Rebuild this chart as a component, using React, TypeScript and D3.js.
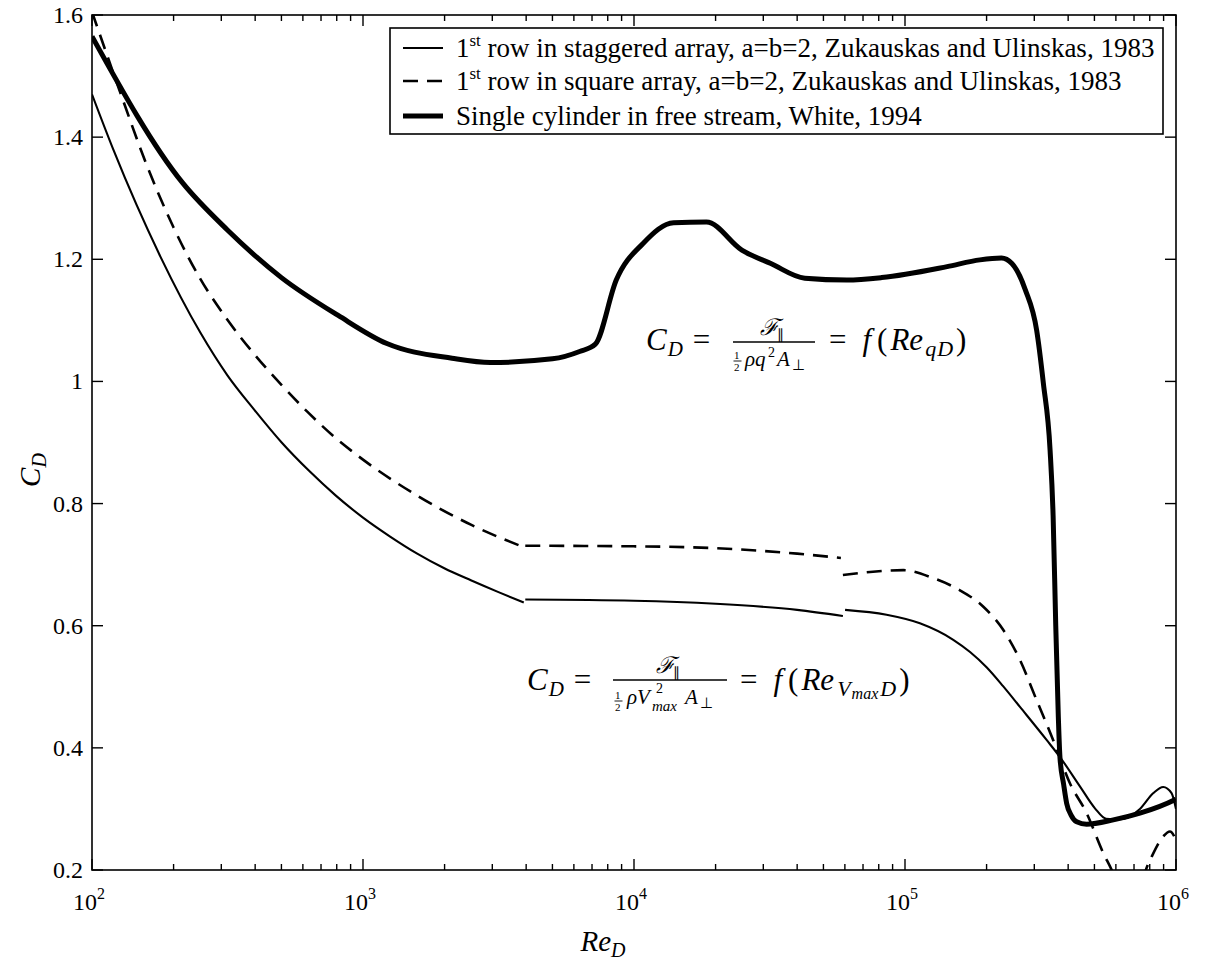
import React, { useEffect, useRef } from "react";
import * as d3 from "d3";

// 1st row in staggered array (thin solid), three pieces
const stagRe1 = [100, 120, 179, 251, 316, 398, 501, 631, 794, 1000, 1259, 1585, 1995, 2512, 3162, 3920];
const stagCd1 = [1.47, 1.379, 1.204, 1.08, 1.01, 0.953, 0.9, 0.854, 0.813, 0.777, 0.746, 0.718, 0.694, 0.674, 0.655, 0.638];
const stagRe2 = [3970, 10000, 20000, 40000, 59000];
const stagCd2 = [0.643, 0.641, 0.636, 0.626, 0.616];
const stagRe3 = [60100, 85500, 113500, 150700, 173800, 200000, 230100, 265600, 333000, 373000, 442000, 502300, 552000, 621000, 736000, 825000, 897000, 963000, 1000000];
const stagCd3 = [0.626, 0.618, 0.604, 0.577, 0.557, 0.532, 0.501, 0.467, 0.413, 0.385, 0.337, 0.301, 0.284, 0.283, 0.3, 0.326, 0.336, 0.326, 0.3];

// 1st row in square array (dashed), three pieces
const sqRe1 = [100, 126, 158, 200, 251, 316, 398, 501, 631, 794, 1000, 1585, 2512, 3950];
const sqCd1 = [1.605, 1.478, 1.358, 1.252, 1.168, 1.101, 1.044, 0.994, 0.948, 0.907, 0.872, 0.813, 0.765, 0.728];
const sqRe2 = [3970, 10000, 20000, 40000, 58000];
const sqCd2 = [0.731, 0.73, 0.727, 0.718, 0.711];
const sqRe3 = [59000, 74300, 98600, 127000, 159500, 194600, 230600, 265600, 306000, 352000, 406000, 468000, 540000, 579000, 660000, 801000, 897000, 950000, 1000000];
const sqCd3 = [0.683, 0.688, 0.691, 0.678, 0.658, 0.631, 0.593, 0.544, 0.478, 0.413, 0.342, 0.293, 0.227, 0.2, 0.13, 0.216, 0.255, 0.263, 0.249];

// single cylinder in free stream, White 1994 (thick)
const cylRe = [100, 216, 316, 500, 810, 1225, 2130, 2950, 5000, 6300, 7200, 8600, 10800, 14000, 18500, 25000, 32000, 42700, 61000, 82000, 143000, 189000, 227000, 248000, 278000, 306000, 324000, 343000, 352000, 360000, 368000, 373000, 385000, 395000, 410000, 430000, 468000, 587000, 736000, 990000, 1000000];
const cylCd = [1.565, 1.325, 1.248, 1.17, 1.108, 1.062, 1.038, 1.031, 1.037, 1.049, 1.061, 1.166, 1.226, 1.26, 1.261, 1.215, 1.193, 1.169, 1.166, 1.17, 1.188, 1.199, 1.202, 1.193, 1.15, 1.084, 0.997, 0.888, 0.78, 0.6, 0.45, 0.385, 0.34, 0.309, 0.29, 0.279, 0.275, 0.282, 0.293, 0.315, 0.316];

const yTicks = [0.2, 0.4, 0.6, 0.8, 1.0, 1.2, 1.4, 1.6];
const yTickLabels = ["0.2", "0.4", "0.6", "0.8", "1", "1.2", "1.4", "1.6"];
const xDecades = [2, 3, 4, 5, 6];

const legendRest = [
  " row in staggered array, a=b=2, Zukauskas and Ulinskas, 1983",
  " row in square array, a=b=2, Zukauskas and Ulinskas, 1983",
  "Single cylinder in free stream, White, 1994",
];

const serif = "Liberation Serif, Times New Roman, serif";

export default function App() {
  const svgRef = useRef<SVGSVGElement>(null);

  useEffect(() => {
    const svg = d3.select(svgRef.current);
    svg.selectAll("*").remove();

    const left = 92, right = 1176, top = 15, bottom = 870;
    const x = d3.scaleLog().domain([1e2, 1e6]).range([left, right]);
    const y = d3.scaleLinear().domain([0.2, 1.6]).range([bottom, top]);

    svg.append("rect").attr("width", 1207).attr("height", 961).attr("fill", "#fff");

    svg.append("defs").append("clipPath").attr("id", "plotclip")
      .append("rect").attr("x", left).attr("y", top).attr("width", right - left).attr("height", bottom - top);

    const zip = (a: number[], b: number[]) => a.map((v, i) => [v, b[i]] as [number, number]);
    const line = d3.line<[number, number]>()
      .x(d => x(d[0]))
      .y(d => y(d[1]))
      .curve(d3.curveMonotoneX);

    const g = svg.append("g").attr("clip-path", "url(#plotclip)");

    // thick
    g.append("path").attr("d", line(zip(cylRe, cylCd)))
      .attr("fill", "none").attr("stroke", "#000").attr("stroke-width", 5).attr("stroke-linejoin", "round");

    // dashed
    [[sqRe1, sqCd1], [sqRe2, sqCd2], [sqRe3, sqCd3]].forEach(([r, c]) => {
      g.append("path").attr("d", line(zip(r, c)))
        .attr("fill", "none").attr("stroke", "#000").attr("stroke-width", 2.6)
        .attr("stroke-dasharray", "15,9");
    });

    // thin
    [[stagRe1, stagCd1], [stagRe2, stagCd2], [stagRe3, stagCd3]].forEach(([r, c]) => {
      g.append("path").attr("d", line(zip(r, c)))
        .attr("fill", "none").attr("stroke", "#000").attr("stroke-width", 2.1);
    });

    // frame
    svg.append("rect").attr("x", left).attr("y", top).attr("width", right - left).attr("height", bottom - top)
      .attr("fill", "none").attr("stroke", "#000").attr("stroke-width", 1.6);

    // x ticks (bottom and top, inward)
    x.ticks().forEach(v => {
      const major = Math.abs(Math.log10(v) - Math.round(Math.log10(v))) < 1e-9;
      const len = major ? 11 : 6;
      svg.append("line").attr("x1", x(v)).attr("x2", x(v)).attr("y1", bottom).attr("y2", bottom - len)
        .attr("stroke", "#000").attr("stroke-width", 1.4);
      svg.append("line").attr("x1", x(v)).attr("x2", x(v)).attr("y1", top).attr("y2", top + len)
        .attr("stroke", "#000").attr("stroke-width", 1.4);
    });

    xDecades.forEach(d => {
      const t = svg.append("text").attr("x", x(Math.pow(10, d)) - 3).attr("y", 910)
        .attr("text-anchor", "middle").attr("font-family", serif).attr("font-size", 24);
      t.append("tspan").text("10");
      t.append("tspan").attr("font-size", 16).attr("dy", -11).text(String(d));
    });

    // y ticks (left and right, inward)
    yTicks.forEach((v, i) => {
      svg.append("line").attr("x1", left).attr("x2", left + 11).attr("y1", y(v)).attr("y2", y(v))
        .attr("stroke", "#000").attr("stroke-width", 1.4);
      svg.append("line").attr("x1", right).attr("x2", right - 11).attr("y1", y(v)).attr("y2", y(v))
        .attr("stroke", "#000").attr("stroke-width", 1.4);
      svg.append("text").attr("x", 83).attr("y", y(v) + 8).attr("text-anchor", "end")
        .attr("font-family", serif).attr("font-size", 24).text(yTickLabels[i]);
    });

    // axis titles
    const xl = svg.append("text").attr("x", 603).attr("y", 951).attr("text-anchor", "middle")
      .attr("font-family", serif).attr("font-size", 29).attr("font-style", "italic");
    xl.append("tspan").text("Re");
    xl.append("tspan").attr("font-size", 20).attr("dy", 6).text("D");

    const yl = svg.append("text").attr("transform", "translate(40,470) rotate(-90)").attr("text-anchor", "middle")
      .attr("font-family", serif).attr("font-size", 29).attr("font-style", "italic");
    yl.append("tspan").text("C");
    yl.append("tspan").attr("font-size", 20).attr("dy", 6).text("D");

    // legend
    const lg = svg.append("g");
    lg.append("rect").attr("x", 390).attr("y", 28).attr("width", 773).attr("height", 106)
      .attr("fill", "#fff").attr("stroke", "#000").attr("stroke-width", 1.6);
    const rowsY = [48, 81, 116];
    const sw = [2.1, 2.6, 5];
    rowsY.forEach((ry, i) => {
      const l = lg.append("line").attr("x1", 403).attr("x2", 443).attr("y1", ry).attr("y2", ry)
        .attr("stroke", "#000").attr("stroke-width", sw[i]);
      if (i === 1) l.attr("stroke-dasharray", "15,9");
      const t = lg.append("text").attr("x", 456).attr("y", ry + 9)
        .attr("font-family", serif).attr("font-size", 27);
      if (i < 2) {
        t.append("tspan").text("1");
        t.append("tspan").attr("font-size", 17).attr("dy", -11).text("st");
        t.append("tspan").attr("dy", 11).text(legendRest[i]);
      } else {
        t.text(legendRest[i]);
      }
    });

    // formula helpers
    const run = (tx: number, ty: number) =>
      svg.append("text").attr("x", tx).attr("y", ty).attr("font-family", serif).attr("font-size", 31);
    const span = (t: any, s: string, o: { it?: boolean; size?: number; dx?: number; dy?: number } = {}) => {
      const sp = t.append("tspan").text(s);
      if (o.it) sp.attr("font-style", "italic");
      if (o.size) sp.attr("font-size", o.size);
      if (o.dx) sp.attr("dx", o.dx);
      if (o.dy) sp.attr("dy", o.dy);
      return sp;
    };
    const txt = (s: string, tx: number, ty: number, size: number, italic = false) =>
      svg.append("text").attr("x", tx).attr("y", ty).attr("font-family", serif)
        .attr("font-size", size).attr("font-style", italic ? "italic" : "normal").text(s);
    const bar = (x1: number, x2: number, by: number, w = 1.3) =>
      svg.append("line").attr("x1", x1).attr("x2", x2).attr("y1", by).attr("y2", by)
        .attr("stroke", "#000").attr("stroke-width", w);
    const half = (hx: number, hy: number) => {
      txt("1", hx, hy - 3, 11);
      bar(hx - 0.5, hx + 7.5, hy - 1, 0.9);
      txt("2", hx, hy + 9, 11);
    };

    // formula 1: C_D = F|| / (1/2 rho q^2 A_perp) = f(Re_qD)
    const a1 = run(646, 350);
    span(a1, "C", { it: true });
    span(a1, "D", { it: true, size: 21, dy: 6, dx: 1 });
    span(a1, "=", { dy: -6, dx: 10 });
    bar(733, 815, 342);
    txt("\u2131", 760, 335, 23, true);
    txt("\u2225", 777, 339, 14);
    half(734, 362);
    txt("\u03C1q", 745, 366, 21, true);
    txt("2", 768, 357, 14);
    txt("A", 777, 366, 21, true);
    txt("\u22A5", 792, 370, 15);
    const b1 = run(829, 350);
    span(b1, "=");
    span(b1, "f", { it: true, dx: 16 });
    span(b1, "(", { dx: 6 });
    span(b1, "Re", { it: true, dx: 3 });
    span(b1, "q", { it: true, size: 22, dy: 6, dx: 2 });
    span(b1, "D", { it: true, size: 22, dx: 1 });
    span(b1, ")", { dy: -6, dx: 3 });

    // formula 2: C_D = F|| / (1/2 rho Vmax^2 A_perp) = f(Re_VmaxD)
    const a2 = run(527, 690);
    span(a2, "C", { it: true });
    span(a2, "D", { it: true, size: 21, dy: 6, dx: 1 });
    span(a2, "=", { dy: -6, dx: 10 });
    bar(613, 727, 680);
    txt("\u2131", 656, 673, 23, true);
    txt("\u2225", 673, 677, 14);
    half(615, 702);
    txt("\u03C1V", 627, 704, 21, true);
    txt("2", 656, 693, 14);
    txt("max", 652, 711, 15, true);
    txt("A", 685, 704, 21, true);
    txt("\u22A5", 700, 708, 15);
    const b2 = run(740, 690);
    span(b2, "=");
    span(b2, "f", { it: true, dx: 16 });
    span(b2, "(", { dx: 6 });
    span(b2, "Re", { it: true, dx: 3 });
    span(b2, "V", { it: true, size: 22, dy: 6, dx: 3 });
    span(b2, "max", { it: true, size: 16, dy: 3, dx: 1 });
    span(b2, "D", { it: true, size: 22, dy: -3, dx: 2 });
    span(b2, ")", { dy: -6, dx: 3 });
  }, []);

  return (
    <svg ref={svgRef} width={1207} height={961}
      style={{ position: "absolute", left: 0, top: 0, display: "block" }} />
  );
}
